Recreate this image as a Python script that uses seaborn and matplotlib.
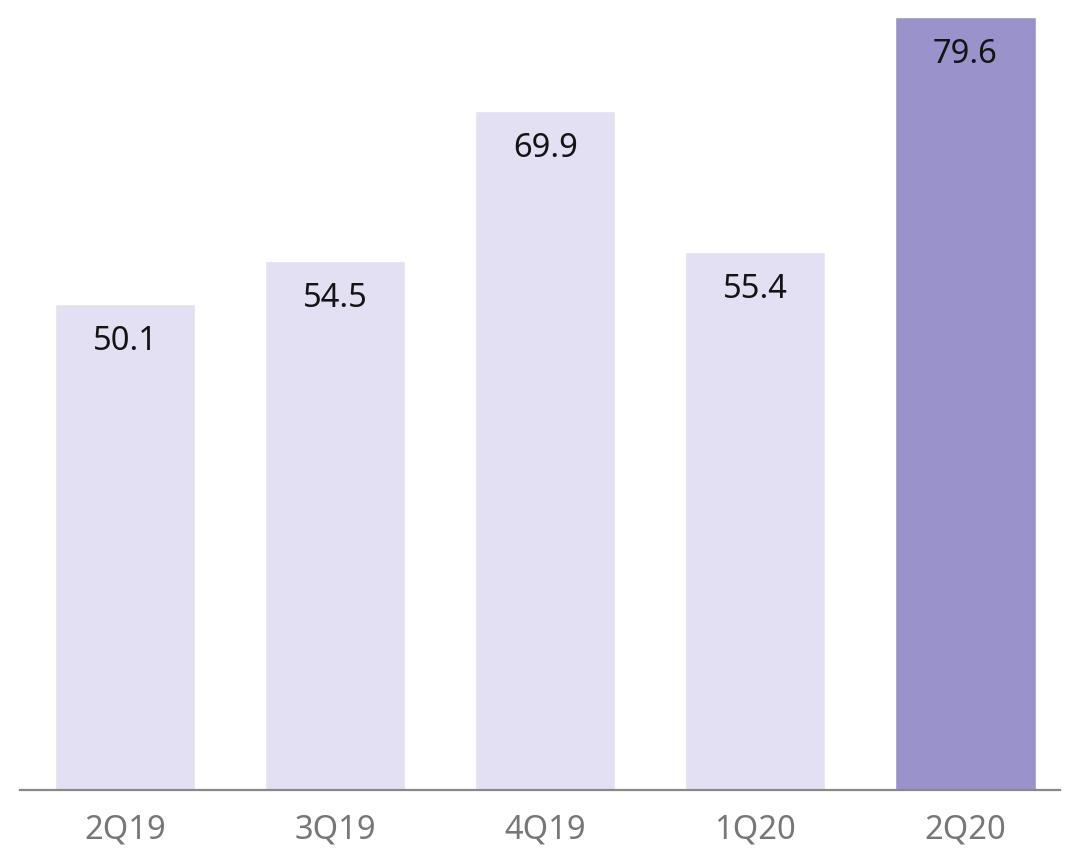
import matplotlib
matplotlib.use('Agg')
import pandas as pd
import seaborn as sns
from matplotlib import pyplot as plt

quarters = ['2Q19', '3Q19', '4Q19', '1Q20', '2Q20']
values = [50.1, 54.5, 69.9, 55.4, 79.6]
light = '#E3E0F3'
dark = '#9992CB'
bar_colors = [light, light, light, light, dark]


def plot_bars():
    sns.set_style('white')
    plt.rcParams['font.family'] = ['Noto Sans', 'DejaVu Sans']
    df = pd.DataFrame({'Quarter': quarters, 'Value': values})

    fig = plt.figure(figsize=(10.8, 8.59), dpi=100)
    ax = fig.add_axes([20 / 1080, 69 / 859, 1040 / 1080, 790 / 859])
    sns.barplot(data=df, x='Quarter', y='Value', hue='Quarter', palette=bar_colors,
                width=0.667, saturation=1, legend=False, ax=ax)

    for i, v in enumerate(values):
        ax.annotate(f'{v:.1f}', (i, v), xytext=(0, -27), textcoords='offset points',
                    ha='center', va='center', fontsize=23.5, color='#141414')

    ax.set_xlim(-0.5, 4.45)
    ax.set_ylim(0, 81.36)
    ax.set_xlabel('')
    ax.set_ylabel('')
    ax.set_yticks([])
    for s in ['top', 'right', 'left']:
        ax.spines[s].set_visible(False)
    ax.spines['bottom'].set_color('#888888')
    ax.spines['bottom'].set_linewidth(1.6)
    ax.tick_params(axis='x', length=0, pad=17, labelsize=23.5, labelcolor='#777777')

    plt.savefig('out.png', dpi=100)


if __name__ == '__main__':
    plot_bars()
